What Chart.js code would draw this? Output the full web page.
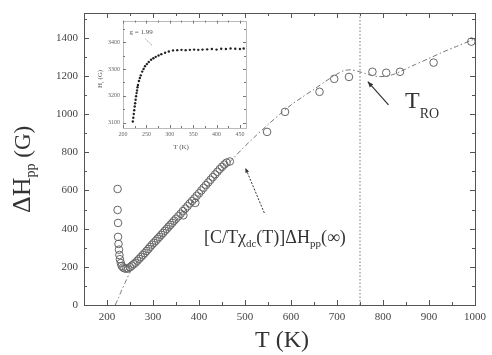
<!DOCTYPE html>
<html>
<head>
<meta charset="utf-8">
<script src="https://cdn.jsdelivr.net/npm/chart.js@4.4.0/dist/chart.umd.min.js"></script>
<style>
html, body { margin: 0; padding: 0; background: #fff; }
#wrap { position: relative; width: 492px; height: 355px; }
#main { position: absolute; left: 0; top: 0; }
#inset { position: absolute; left: 92px; top: 14px; }
</style>
</head>
<body>
<div id="wrap">
    <canvas id="main" width="492" height="355"></canvas>
    <canvas id="inset" width="160" height="140"></canvas>
</div>
<script>
// datos medidos (circulos)
const tempMeas = [223,223,224,224,225,226,227,228,230,232,235,238,242,246,250,254,258,262,266,270,
    274,278,282,286,290,294,298,302,306,310,314,318,322,326,330,334,338,342,346,350,
    355,360,365,370,375,380,385,390,395,400,405,410,415,420,425,430,435,440,445,450,
    455,460,467,366,392,548,587,662,694,726,777,807,837,910,992];
const dHpp = [608,498,430,357,320,290,262,240,220,205,197,192,190,192,198,206,214,222,232,242,
    252,262,272,283,294,305,316,326,336,347,357,368,378,389,399,410,420,431,442,452,
    465,478,492,505,518,532,545,558,572,585,600,614,628,642,656,670,684,698,712,724,
    736,746,752,470,535,907,1012,1117,1185,1195,1222,1217,1222,1270,1380];

// curva [C/T chi_dc(T)] dHpp(inf)
const tempCurve = [218,225,232,240,248,256,265,275,287,300,325,350,375,400,425,450,475,500,525,550,
    575,600,625,650,675,700,715,730,745,760,775,790,805,820,840,870,900,930,960,1000];
const dHcurve = [0,38,78,120,162,196,225,252,282,315,378,440,508,575,640,705,770,832,890,945,
    998,1048,1090,1130,1172,1210,1228,1232,1225,1214,1203,1197,1198,1206,1226,1260,1292,1325,1355,1395];

const tRO = 750;
const xTicks = [200,300,400,500,600,700,800,900,1000];
const yTicks = [0,200,400,600,800,1000,1200,1400];

// inset: campo de resonancia
const insetTemp = [221,222,223,224,225,226,227,228,229,230,231,232,234,236,238,241,244,247,251,255,
    260,265,270,276,282,290,298,307,316,325,334,343,352,361,370,380,390,400,410,420,430,440,450,458];
const insetHr = [3104,3118,3132,3146,3160,3172,3185,3198,3210,3220,3232,3240,3255,3266,3276,3290,3300,3310,3318,3326,
    3334,3340,3345,3350,3355,3360,3365,3369,3370,3371,3370,3371,3372,3371,3372,3373,3374,3372,3375,3374,
    3376,3375,3374,3376];
const insetXTicks = [200,250,300,350,400,450];
const insetYTicks = [3100,3200,3300,3400];

const SERIF = '"Liberation Serif", "DejaVu Serif", serif';

function richText(ctx, x, y, parts) {
    let cx = x;
    parts.forEach(p => {
        ctx.font = p.size + 'px ' + SERIF;
        ctx.fillText(p.t, cx, y + (p.dy || 0));
        cx += ctx.measureText(p.t).width;
    });
}

function arrow(ctx, x1, y1, x2, y2, head, dash) {
    ctx.setLineDash(dash || []);
    ctx.beginPath();
    ctx.moveTo(x1, y1);
    ctx.lineTo(x2, y2);
    ctx.stroke();
    ctx.setLineDash([]);
    const a = Math.atan2(y2 - y1, x2 - x1);
    ctx.beginPath();
    ctx.moveTo(x2, y2);
    ctx.lineTo(x2 - head * Math.cos(a - 0.4), y2 - head * Math.sin(a - 0.4));
    ctx.lineTo(x2 - head * Math.cos(a + 0.4), y2 - head * Math.sin(a + 0.4));
    ctx.closePath();
    ctx.fill();
}

// marco con ticks hacia adentro en los cuatro lados
const framePlugin = {
    id: 'frame',
    beforeDraw(chart, args, opts) {
        if (!opts.fill) return;
        const a = chart.chartArea;
        chart.ctx.save();
        chart.ctx.fillStyle = opts.fill;
        chart.ctx.fillRect(a.left, a.top, a.right - a.left, a.bottom - a.top);
        chart.ctx.restore();
    },
    afterDatasetsDraw(chart, args, opts) {
        const { ctx, chartArea: a, scales: { x, y } } = chart;
        ctx.save();
        ctx.strokeStyle = opts.color;
        ctx.lineWidth = 1;
        ctx.beginPath();
        const tick = (vals, len, isX) => {
            vals.forEach(v => {
                if (isX) {
                    const px = Math.round(x.getPixelForValue(v)) + 0.5;
                    ctx.moveTo(px, a.bottom); ctx.lineTo(px, a.bottom - len);
                    ctx.moveTo(px, a.top); ctx.lineTo(px, a.top + len);
                } else {
                    const py = Math.round(y.getPixelForValue(v)) + 0.5;
                    ctx.moveTo(a.left, py); ctx.lineTo(a.left + len, py);
                    ctx.moveTo(a.right, py); ctx.lineTo(a.right - len, py);
                }
            });
        };
        tick(opts.xMajor, opts.major, true);
        tick(opts.xMinor, opts.minor, true);
        tick(opts.yMajor, opts.major, false);
        tick(opts.yMinor, opts.minor, false);
        ctx.stroke();
        ctx.setLineDash(opts.dash || []);
        ctx.strokeRect(Math.round(a.left) + 0.5, Math.round(a.top) + 0.5,
            Math.round(a.right - a.left), Math.round(a.bottom - a.top));
        ctx.restore();
    }
};

const notesPlugin = {
    id: 'notes',
    afterDraw(chart) {
        const { ctx, scales: { x, y } } = chart;
        ctx.save();
        ctx.fillStyle = '#333';
        ctx.strokeStyle = '#333';
        ctx.textBaseline = 'alphabetic';

        // T_RO
        richText(ctx, 405, 108, [{ t: 'T', size: 24 }, { t: 'RO', size: 14, dy: 10 }]);
        ctx.lineWidth = 1.2;
        arrow(ctx, x.getPixelForValue(812), y.getPixelForValue(1049),
            x.getPixelForValue(767), y.getPixelForValue(1170), 6);

        // formula
        richText(ctx, 204, 243, [
            { t: '[C/T\u03c7', size: 18 }, { t: 'dc', size: 11, dy: 4 },
            { t: '(T)]\u0394H', size: 18 }, { t: 'pp', size: 11, dy: 4 },
            { t: '(\u221e)', size: 18 }
        ]);
        ctx.lineWidth = 1;
        arrow(ctx, x.getPixelForValue(542), y.getPixelForValue(482),
            x.getPixelForValue(501), y.getPixelForValue(718), 5, [2, 1.5]);

        // titulos de ejes
        ctx.textAlign = 'left';
        ctx.font = '24px ' + SERIF;
        const w = ctx.measureText('T (K)').width;
        richText(ctx, 282 - w / 2, 347, [{ t: 'T (K)', size: 24 }]);

        ctx.translate(30, 213);
        ctx.rotate(-Math.PI / 2);
        richText(ctx, 0, 0, [{ t: '\u0394H', size: 26 }, { t: 'pp', size: 14, dy: 5 }, { t: ' (G)', size: 23 }]);
        ctx.restore();
    }
};

const insetNotesPlugin = {
    id: 'insetNotes',
    afterDraw(chart) {
        const { ctx, scales: { x, y } } = chart;
        ctx.save();
        ctx.fillStyle = '#555';
        ctx.strokeStyle = '#666';
        richText(ctx, x.getPixelForValue(214), y.getPixelForValue(3430), [{ t: 'g = 1.99', size: 7 }]);
        ctx.lineWidth = 0.8;
        ctx.setLineDash([1, 1]);
        ctx.beginPath();
        ctx.moveTo(x.getPixelForValue(248), y.getPixelForValue(3412));
        ctx.lineTo(x.getPixelForValue(262), y.getPixelForValue(3388));
        ctx.stroke();
        ctx.setLineDash([]);

        ctx.font = '7px ' + SERIF;
        ctx.textAlign = 'center';
        ctx.fillText('T (K)', 89, 135);
        ctx.translate(10, 62);
        ctx.rotate(-Math.PI / 2);
        ctx.textAlign = 'left';
        richText(ctx, -12, 0, [{ t: 'H', size: 7 }, { t: 'r', size: 5, dy: 2 }, { t: ' (G)', size: 7 }]);
        ctx.restore();
    }
};

const tickFont = { family: SERIF, size: 11 };
const plain = v => String(v);

new Chart(document.getElementById('main'), {
    type: 'scatter',
    data: {
        datasets: [
            {
                data: tempMeas.map((t, i) => ({ x: t, y: dHpp[i] })),
                pointStyle: 'circle',
                pointRadius: 3.8,
                borderColor: '#666',
                borderWidth: 1,
                backgroundColor: 'rgba(0,0,0,0)'
            },
            {
                data: tempCurve.map((t, i) => ({ x: t, y: dHcurve[i] })),
                showLine: true,
                tension: 0.3,
                pointRadius: 0,
                borderColor: '#777',
                borderWidth: 1,
                borderDash: [5, 2.5, 1.5, 2.5]
            },
            {
                data: [{ x: tRO, y: 0 }, { x: tRO, y: 1530 }],
                showLine: true,
                pointRadius: 0,
                borderColor: '#777',
                borderWidth: 1,
                borderDash: [1.5, 2]
            }
        ]
    },
    options: {
        responsive: false,
        animation: false,
        layout: { padding: { top: 13, right: 11, left: 0, bottom: 0 } },
        plugins: {
            legend: { display: false },
            tooltip: { enabled: false },
            frame: {
                color: '#555', major: 5, minor: 3,
                xMajor: xTicks, xMinor: [250,350,450,550,650,750,850,950],
                yMajor: yTicks, yMinor: [100,300,500,700,900,1100,1300,1500]
            }
        },
        scales: {
            x: {
                type: 'linear', min: 150, max: 1000,
                grid: { display: false, drawTicks: false },
                border: { display: false },
                afterBuildTicks: s => { s.ticks = xTicks.map(v => ({ value: v })); },
                afterFit: s => { s.height = 50; },
                ticks: { font: tickFont, color: '#444', padding: 6, maxRotation: 0, autoSkip: false, callback: plain }
            },
            y: {
                type: 'linear', min: 0, max: 1530,
                grid: { display: false, drawTicks: false },
                border: { display: false },
                afterBuildTicks: s => { s.ticks = yTicks.map(v => ({ value: v })); },
                afterFit: s => { s.width = 84; },
                ticks: { font: tickFont, color: '#444', padding: 6, autoSkip: false, callback: plain }
            }
        }
    },
    plugins: [framePlugin, notesPlugin]
});

new Chart(document.getElementById('inset'), {
    type: 'scatter',
    data: {
        datasets: [{
            data: insetTemp.map((t, i) => ({ x: t, y: insetHr[i] })),
            pointRadius: 1.2,
            borderWidth: 0,
            backgroundColor: '#222'
        }]
    },
    options: {
        responsive: false,
        animation: false,
        layout: { padding: { top: 5, right: 6, left: 0, bottom: 0 } },
        plugins: {
            legend: { display: false },
            tooltip: { enabled: false },
            frame: {
                fill: '#fff', color: '#777', dash: [1, 1], major: 3, minor: 2,
                xMajor: insetXTicks, xMinor: [225,275,325,375,425],
                yMajor: insetYTicks, yMinor: [3150,3250,3350,3450]
            }
        },
        scales: {
            x: {
                type: 'linear', min: 200, max: 463,
                grid: { display: false, drawTicks: false },
                border: { display: false },
                afterBuildTicks: s => { s.ticks = insetXTicks.map(v => ({ value: v })); },
                afterFit: s => { s.height = 26; },
                ticks: { font: { family: SERIF, size: 6 }, color: '#666', padding: 3, maxRotation: 0, autoSkip: false, callback: plain }
            },
            y: {
                type: 'linear', min: 3080, max: 3480,
                grid: { display: false, drawTicks: false },
                border: { display: false },
                afterBuildTicks: s => { s.ticks = insetYTicks.map(v => ({ value: v })); },
                afterFit: s => { s.width = 31; },
                ticks: { font: { family: SERIF, size: 6 }, color: '#666', padding: 3, autoSkip: false, callback: plain }
            }
        }
    },
    plugins: [framePlugin, insetNotesPlugin]
});
</script>
</body>
</html>
